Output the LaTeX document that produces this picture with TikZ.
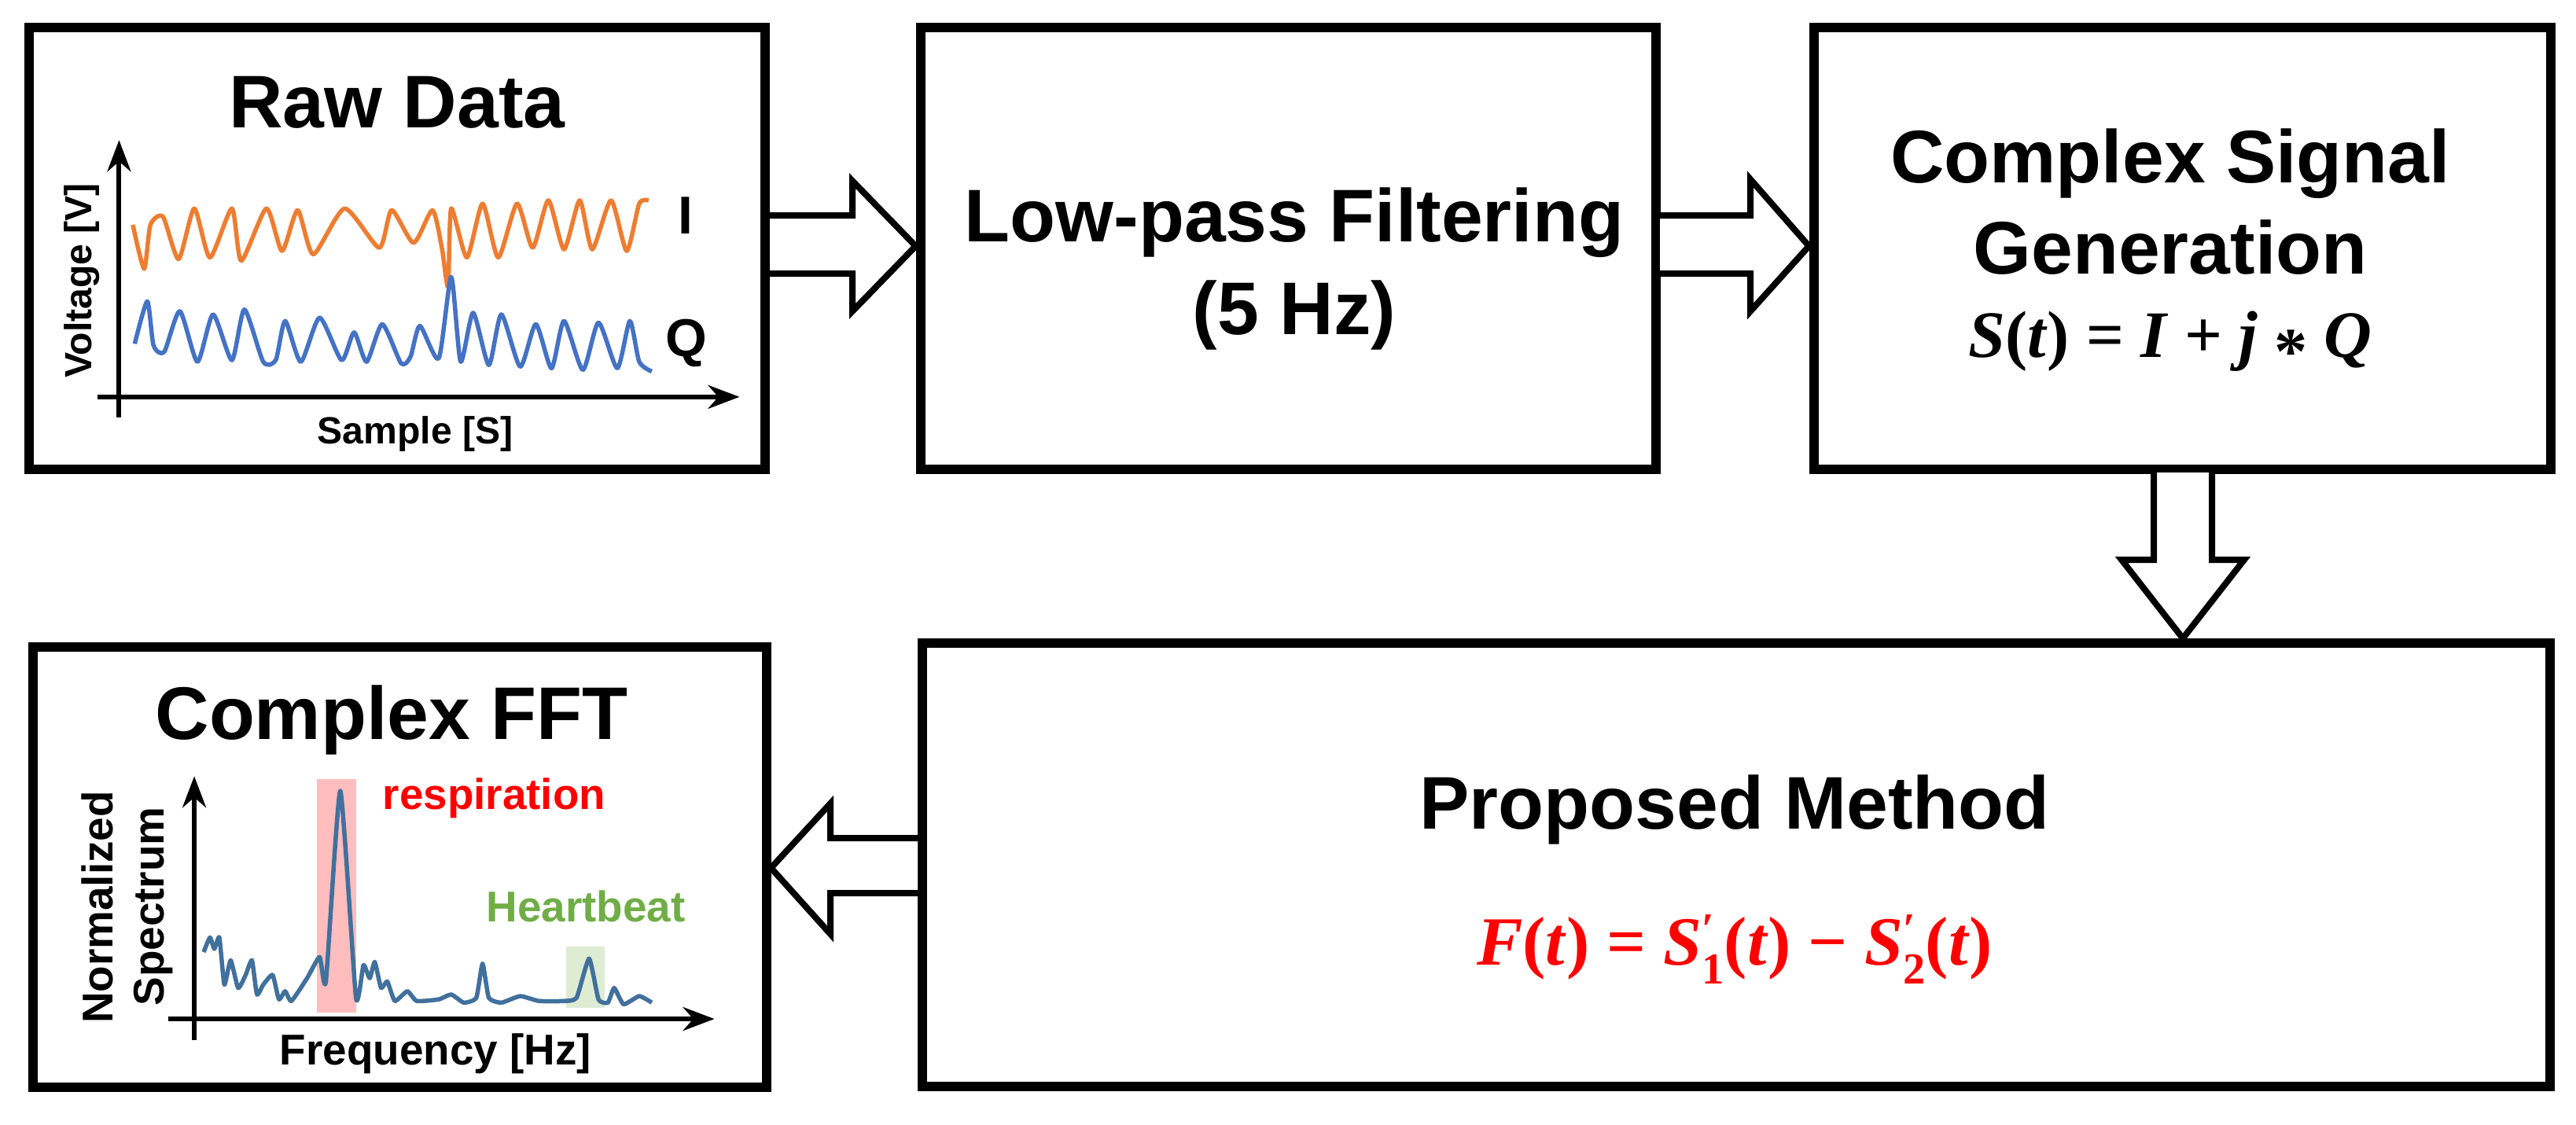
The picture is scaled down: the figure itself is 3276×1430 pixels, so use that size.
\documentclass[tikz,border=0pt]{standalone}
\usepackage{fontspec}
\setmainfont{Liberation Sans}
\newfontfamily\mfont{Liberation Serif}
\usetikzlibrary{arrows.meta}
\definecolor{cI}{HTML}{ED7D31}
\definecolor{cQ}{HTML}{4472C4}
\definecolor{cS}{HTML}{41709C}
\definecolor{cH}{HTML}{70AD47}
\newcommand{\Sp}[1]{S\rlap{\raisebox{0.3em}{\fontsize{16}{16}\selectfont\upshape\char"2032}}\raisebox{-0.28em}{\fontsize{16}{16}\selectfont\upshape #1}}
\begin{document}
\begin{tikzpicture}[x=0.1mm,y=-0.1mm,
  box/.style={draw,line width=1.2mm,inner sep=0pt},
  title/.style={font=\fontsize{27}{32}\selectfont\bfseries,anchor=base,inner sep=0pt},
  small/.style={font=\fontsize{13.7}{16}\selectfont\bfseries,inner sep=0pt},
  lab/.style={font=\fontsize{15.6}{18}\selectfont\bfseries,inner sep=0pt},
  bigarrow/.style={draw,fill=white,line width=0.8mm,line join=miter},
  axis/.style={line width=0.6mm,-{Stealth[length=4mm,width=3mm]}}]
\useasboundingbox (0,0) rectangle (3276,1430);
% boxes
\node[box,minimum width=93.6mm,minimum height=56.2mm] (raw) at (505,316) {};
\node[box,minimum width=93.5mm,minimum height=56.2mm] (lp) at (1638,316) {};
\node[box,minimum width=93.7mm,minimum height=56.2mm] (csg) at (2775,316) {};
\node[box,minimum width=207mm,minimum height=56.4mm] (pm) at (2208,1100) {};
\node[box,minimum width=93.3mm,minimum height=56mm] (fft) at (508,1103) {};
\coordinate (dtip) at (2776,812);
% texts
\node[title] (tRaw) at (505,162) {Raw Data};
\node[title] (tLp1) at (1646,307) {Low-pass Filtering};
\node[title] (tLp2) at (1646,425) {(5 Hz)};
\node[title] (tC1) at (2760,232) {Complex Signal};
\node[title] (tC2) at (2760,348) {Generation};
\node[anchor=base,inner sep=0pt,font=\fontsize{24}{26}\selectfont\mfont\bfseries] (fS) at (2760,454) {\textit{S}(\textit{t}) = \textit{I} + \textit{j} \raisebox{-0.25em}{*} \textit{Q}};
\node[title] (tPm) at (2206,1054) {Proposed Method};
\node[anchor=base,inner sep=0pt,text=red,font=\fontsize{25}{28}\selectfont\mfont\bfseries] (fF) at (2206,1227) {\textit{F}(\textit{t}) = \textit{\Sp{1}}(\textit{t}) − \textit{\Sp{2}}(\textit{t})};
\node[title] (tFft) at (498,940) {Complex FFT};
% connectors (outlined block arrows)
\draw[bigarrow] (979,274) -- (1084,274) -- (1084,230) -- (lp.west |- 0,313) -- (1084,396) -- (1084,348) -- (979,348);
\draw[bigarrow] (2111,274) -- (2226,274) -- (2226,228) -- (csg.west |- 0,313) -- (2226,396) -- (2226,348) -- (2111,348);
\draw[bigarrow] (2739,601) -- (2739,712) -- (2698,712) -- (dtip) -- (2854,712) -- (2813,712) -- (2813,601);
\draw[bigarrow] (1167,1066) -- (1056,1066) -- (1056,1022) -- (fft.east |- 0,1104) -- (1056,1188) -- (1056,1136) -- (1167,1136);
% raw plot
\begin{scope}[xscale=0.797,yscale=0.4145]
\draw[axis] (190,1280) -- (190,430);
\draw[axis] (155,1218) -- (1180,1218);
\draw[cI,line width=0.55mm,line join=round] plot[smooth,tension=0.4] coordinates {(212,690)(230,825)(240,690)(260,665)(285,795)(310,640)(335,790)(370,640)(385,800)(425,640)(450,770)(475,645)(500,780)(550,640)(605,760)(625,645)(660,745)(690,645)(705,760)(715,880)(720,640)(745,790)(770,625)(795,790)(825,625)(850,760)(875,615)(900,765)(925,615)(945,765)(975,615)(1000,770)(1020,625)(1035,615)};
\draw[cQ,line width=0.55mm,line join=round] plot[smooth,tension=0.4] coordinates {(215,1055)(235,925)(245,1060)(262,1080)(287,955)(315,1110)(340,965)(370,1105)(390,950)(420,1110)(440,1105)(455,985)(480,1110)(510,975)(545,1105)(565,1020)(585,1110)(610,995)(640,1115)(655,1095)(670,1000)(700,1100)(720,850)(735,1110)(755,960)(780,1120)(800,965)(830,1125)(855,995)(880,1130)(900,985)(930,1135)(955,990)(985,1130)(1005,985)(1020,1110)(1040,1140)};
\end{scope}
\node[small,rotate=90] (vl) at (104,357) {Voltage [V]};
\node[small,anchor=base] (sl) at (528,564) {Sample [S]};
\node[font=\fontsize{19.3}{22}\selectfont\bfseries,inner sep=0pt] (lI) at (872,274) {I};
\node[font=\fontsize{19.3}{22}\selectfont\bfseries,inner sep=0pt] (lQ) at (873,436) {Q};
% fft plot
\fill[red!30,opacity=0.85] (403,991) rectangle (453,1288);
\fill[cH!30,opacity=0.8] (720,1204) rectangle (769,1282);
\begin{scope}[shift={(0,780)},xscale=0.797,yscale=0.4145]
\draw[axis] (310,1310) -- (310,500);
\draw[axis] (268,1245) -- (1140,1245);
\draw[cS,line width=0.55mm,line join=round] plot[smooth,tension=0.3] coordinates {(325,1040)(335,995)(342,1030)(350,995)(358,1140)(368,1065)(380,1150)(392,1110)(402,1065)(410,1170)(420,1140)(435,1110)(445,1185)(455,1160)(465,1190)(490,1120)(510,1055)(520,1130)(543,545)(568,1180)(580,1080)(590,1120)(598,1070)(608,1150)(618,1130)(630,1190)(650,1160)(665,1190)(700,1185)(720,1170)(740,1195)(760,1180)(770,1075)(780,1180)(800,1195)(830,1175)(860,1190)(900,1190)(920,1180)(940,1060)(955,1185)(970,1195)(980,1150)(995,1200)(1020,1175)(1040,1195)};
\end{scope}
\node[lab,rotate=90] (nl) at (124,1154) {Normalized};
\node[lab,rotate=90] (spl) at (195,1153) {Spectrum};
\node[lab,anchor=base] (fl) at (554,1354) {Frequency [Hz]};
\node[lab,anchor=base west,text=red] (rl) at (486,1029) {respiration};
\node[lab,anchor=base west,text=cH] (hl) at (618,1172) {Heartbeat};
\end{tikzpicture}
\end{document}
